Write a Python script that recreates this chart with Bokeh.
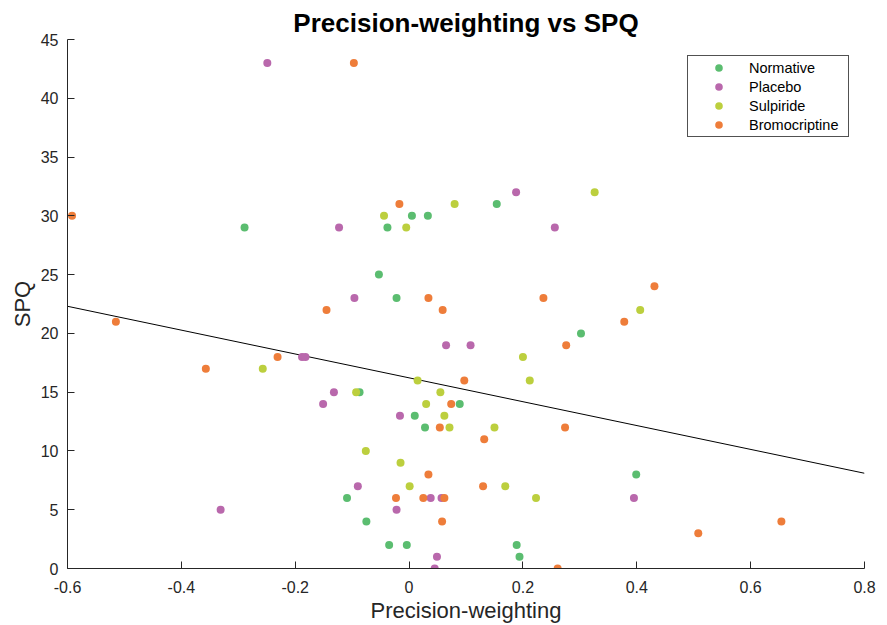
from bokeh.plotting import figure
from bokeh.models import Range1d, FixedTicker, Legend, LegendItem
from bokeh.embed import file_html
from bokeh.resources import INLINE
import numpy as np

# ---- data ----
groups = ["Normative", "Placebo", "Sulpiride", "Bromocriptine"]
colors = ["#5bbd70", "#b968ac", "#bccf3e", "#ee7d3a"]

normative_x = [-0.289, -0.053, -0.038, 0.005, 0.033, 0.154, -0.022, -0.087, 0.010,
               0.028, 0.089, 0.302, 0.399, -0.109, -0.075, -0.035, -0.004, 0.189, 0.194]
normative_y = [29, 25, 29, 30, 30, 31, 23, 15, 13,
               12, 14, 20, 8, 6, 4, 2, 2, 2, 1]

placebo_x = [-0.249, -0.123, 0.188, 0.256, -0.096, 0.065, 0.108, -0.188, -0.182, -0.132,
             -0.151, -0.016, -0.331, -0.090, -0.022, 0.038, 0.057, 0.049, 0.045, 0.395]
placebo_y = [43, 29, 32, 29, 23, 19, 19, 18, 18, 15,
             14, 13, 5, 7, 5, 6, 6, 1, 0, 6]

sulpiride_x = [-0.044, -0.005, 0.080, 0.326, 0.406, 0.200, 0.212, -0.257, -0.093, 0.015,
               0.055, 0.030, 0.062, 0.071, 0.150, -0.076, -0.015, 0.001, 0.169, 0.223]
sulpiride_y = [30, 29, 31, 32, 22, 18, 16, 17, 15, 16,
               15, 14, 13, 12, 12, 10, 9, 7, 7, 6]

bromocriptine_x = [-0.592, -0.097, -0.017, -0.145, 0.034, 0.059, 0.236, 0.431, 0.378,
                   0.276, -0.515, -0.357, -0.231, 0.097, 0.074, 0.054, 0.274, 0.132,
                   0.034, 0.130, -0.023, 0.025, 0.062, 0.058, 0.508, 0.654, 0.261]
bromocriptine_y = [30, 43, 31, 22, 23, 22, 23, 24, 21,
                   19, 21, 17, 18, 16, 14, 12, 12, 11,
                   8, 7, 6, 6, 6, 4, 3, 4, 0]

x_ticks = [-0.6, -0.4, -0.2, 0, 0.2, 0.4, 0.6, 0.8]
x_tick_labels = ["-0.6", "-0.4", "-0.2", "0", "0.2", "0.4", "0.6", "0.8"]
y_ticks = [0, 5, 10, 15, 20, 25, 30, 35, 40, 45]

series_x = [normative_x, placebo_x, sulpiride_x, bromocriptine_x]
series_y = [normative_y, placebo_y, sulpiride_y, bromocriptine_y]

FONT = "Liberation Sans"
AX = "#262626"

p = figure(width=887, height=625, output_backend="svg", toolbar_location=None,
           x_range=Range1d(-0.6, 0.8), y_range=Range1d(0, 45),
           min_border_left=67, min_border_right=23, min_border_top=39, min_border_bottom=56,
           title="Precision-weighting vs SPQ")

p.title.text_font = FONT
p.title.text_font_size = "26px"
p.title.text_font_style = "bold"
p.title.text_color = "black"
p.title.align = "center"
p.title.standoff = 3

p.xgrid.visible = False
p.ygrid.visible = False
p.outline_line_color = None
p.background_fill_color = "white"
p.border_fill_color = "white"

for ax in (p.xaxis[0], p.yaxis[0]):
    ax.axis_line_color = AX
    ax.axis_line_width = 1
    ax.major_tick_line_color = AX
    ax.major_tick_in = 7
    ax.major_tick_out = 0
    ax.minor_tick_line_color = None
    ax.major_label_text_font = FONT
    ax.major_label_text_font_size = "16px"
    ax.major_label_text_color = AX
    ax.axis_label_text_font = FONT
    ax.axis_label_text_font_size = "22px"
    ax.axis_label_text_font_style = "normal"
    ax.axis_label_text_color = AX

p.xaxis.ticker = FixedTicker(ticks=x_ticks)
p.xaxis.major_label_overrides = dict(zip(x_ticks, x_tick_labels))
p.yaxis.ticker = FixedTicker(ticks=y_ticks)
p.xaxis.axis_label = "Precision-weighting"
p.yaxis.axis_label = "SPQ"
p.xaxis.major_label_standoff = 12
p.xaxis.axis_label_standoff = 2
p.yaxis.major_label_standoff = 9
p.yaxis.axis_label_standoff = 3

# least-squares regression line over all points
all_x = np.concatenate([np.array(v, float) for v in series_x])
all_y = np.concatenate([np.array(v, float) for v in series_y])
slope, intercept = np.polyfit(all_x, all_y, 1)
lx = np.array([p.x_range.start, p.x_range.end])
p.line(lx, slope * lx + intercept, line_color="black", line_width=1)

items = []
for name, col, xs, ys in zip(groups, colors, series_x, series_y):
    r = p.scatter(xs, ys, size=8, fill_color=col, line_color=None)
    items.append(LegendItem(label=name, renderers=[r]))

legend = Legend(items=items, location=(620, 431), margin=0, padding=2, spacing=0,
                glyph_width=57, glyph_height=19, label_height=19, label_standoff=2,
                label_width=97, label_text_font=FONT, label_text_font_size="14.5px",
                label_text_color="black", border_line_color=AX, border_line_width=1,
                border_line_alpha=0.8,
                background_fill_color="white", background_fill_alpha=1)
p.add_layout(legend)

open("out.html", "w").write(file_html(p, INLINE))
